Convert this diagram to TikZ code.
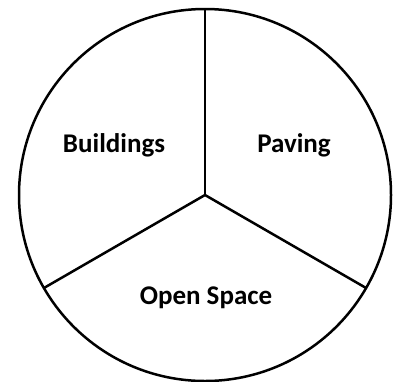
\documentclass[tikz,border=0pt]{standalone}
\usepackage{fontspec}
\setmainfont{Carlito}
\usetikzlibrary{calc}
\begin{document}
\begin{tikzpicture}[x=1pt,y=-1pt,
  seg/.style={line width=2.5pt,black},
  lbl/.style={font=\bfseries\fontsize{27}{32}\selectfont,inner sep=0pt}]
\useasboundingbox[fill=white] (0,0) rectangle (401,381);
\coordinate (c) at (205,195);
\draw[seg] (c) circle[radius=186];
\coordinate (t) at (205,9);
\coordinate (l) at (43.92,288);
\coordinate (r) at (366.08,288);
\draw[seg] (c) -- (t);
\draw[seg] (c) -- (l);
\draw[seg] (c) -- (r);
\node[lbl] (b) at (114,145) {Buildings};
\node[lbl] (p) at (294,145) {Paving};
\node[lbl] (o) at (206,298) {Open Space};
\end{tikzpicture}
\end{document}
